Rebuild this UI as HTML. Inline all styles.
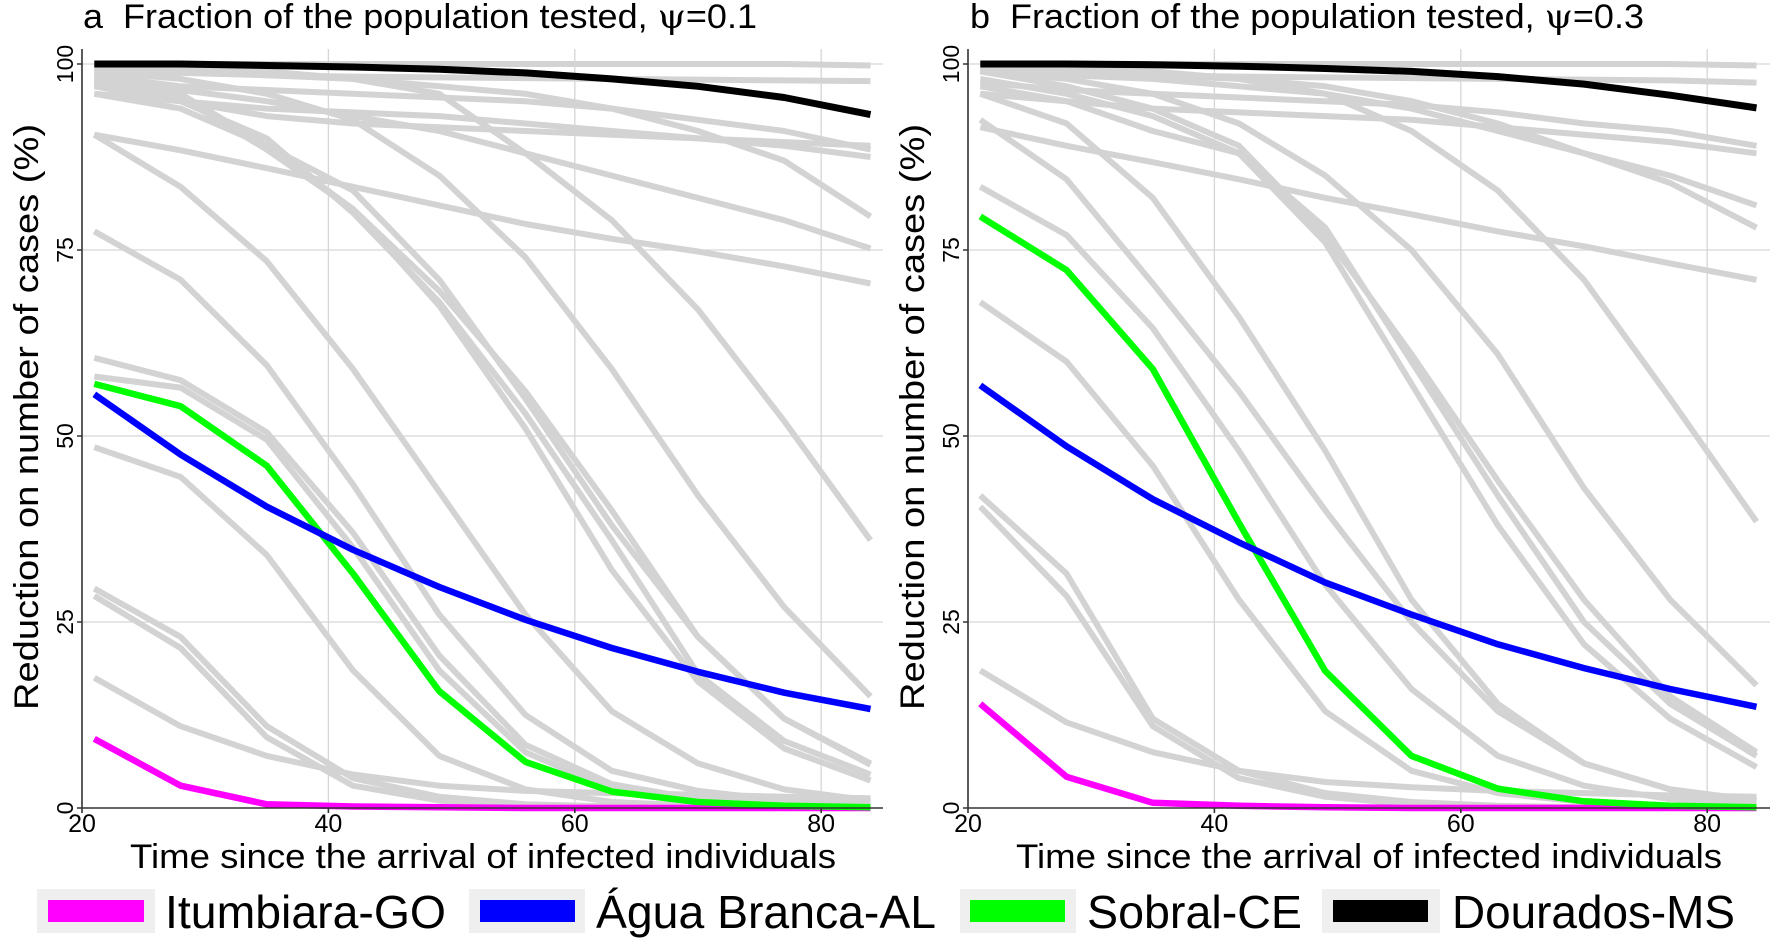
<!DOCTYPE html>
<html><head><meta charset="utf-8"><style>
html,body{margin:0;padding:0;background:#fff;}
svg{display:block;font-family:"Liberation Sans",Arial,sans-serif;}
</style></head><body>
<svg id="s" width="1770" height="940" xmlns="http://www.w3.org/2000/svg">
<g id="grid" stroke="#d6d6d6" stroke-width="1.3" fill="none">
<line x1="82" y1="64" x2="883" y2="64"/><line x1="82" y1="250" x2="883" y2="250"/><line x1="82" y1="436" x2="883" y2="436"/><line x1="82" y1="622" x2="883" y2="622"/>
<line x1="328.4" y1="49" x2="328.4" y2="808"/><line x1="574.8" y1="49" x2="574.8" y2="808"/><line x1="821.2" y1="49" x2="821.2" y2="808"/>
<line x1="968" y1="64" x2="1770" y2="64"/><line x1="968" y1="250" x2="1770" y2="250"/><line x1="968" y1="436" x2="1770" y2="436"/><line x1="968" y1="622" x2="1770" y2="622"/>
<line x1="1214.4" y1="49" x2="1214.4" y2="808"/><line x1="1460.8" y1="49" x2="1460.8" y2="808"/><line x1="1707.2" y1="49" x2="1707.2" y2="808"/>
</g>
<g id="series"></g>
<g stroke="#333" stroke-width="1.6" fill="none">
<line x1="82" y1="49" x2="82" y2="808"/><line x1="82" y1="808" x2="883" y2="808"/>
<line x1="968" y1="49" x2="968" y2="808"/><line x1="968" y1="808" x2="1770" y2="808"/>
<path d="M77 64H82M77 250H82M77 436H82M77 622H82M77 808H82M82 808V813M328.4 808V813M574.8 808V813M821.2 808V813"/>
<path d="M963 64H968M963 250H968M963 436H968M963 622H968M963 808H968M968 808V813M1214.4 808V813M1460.8 808V813M1707.2 808V813"/>
</g>
<g font-size="23" fill="#000" text-anchor="middle">
<text transform="translate(73,64) rotate(-90)">100</text>
<text transform="translate(73,250) rotate(-90)">75</text>
<text transform="translate(73,436) rotate(-90)">50</text>
<text transform="translate(73,622) rotate(-90)">25</text>
<text transform="translate(73,808) rotate(-90)">0</text>
<text transform="translate(959,64) rotate(-90)">100</text>
<text transform="translate(959,250) rotate(-90)">75</text>
<text transform="translate(959,436) rotate(-90)">50</text>
<text transform="translate(959,622) rotate(-90)">25</text>
<text transform="translate(959,808) rotate(-90)">0</text>
</g>
<g font-size="25" fill="#000" text-anchor="middle">
<text x="82" y="832">20</text><text x="328.4" y="832">40</text><text x="574.8" y="832">60</text><text x="821.2" y="832">80</text>
<text x="968" y="832">20</text><text x="1214.4" y="832">40</text><text x="1460.8" y="832">60</text><text x="1707.2" y="832">80</text>
</g>
<g font-size="34" fill="#000">
<text x="130" y="868" textLength="706" lengthAdjust="spacingAndGlyphs">Time since the arrival of infected individuals</text>
<text x="1016" y="868" textLength="706" lengthAdjust="spacingAndGlyphs">Time since the arrival of infected individuals</text>
<text transform="translate(38,710) rotate(-90)" textLength="586" lengthAdjust="spacingAndGlyphs">Reduction on number of cases (%)</text>
<text transform="translate(924,710) rotate(-90)" textLength="586" lengthAdjust="spacingAndGlyphs">Reduction on number of cases (%)</text>
</g>
<g font-size="34" fill="#000">
<text x="83" y="28" textLength="674" lengthAdjust="spacingAndGlyphs">a&#160;&#160;Fraction of the population tested, <tspan font-family="'DejaVu Serif',serif">ψ</tspan>=0.1</text>
<text x="970" y="28" textLength="674" lengthAdjust="spacingAndGlyphs">b&#160;&#160;Fraction of the population tested, <tspan font-family="'DejaVu Serif',serif">ψ</tspan>=0.3</text>
</g>
<g>
<rect x="37" y="889" width="118" height="44" fill="#efefef"/><rect x="48" y="900" width="96" height="22" fill="#ff00ff"/>
<rect x="469" y="889" width="116" height="44" fill="#efefef"/><rect x="480" y="900" width="95" height="22" fill="#0000ff"/>
<rect x="960" y="889" width="116" height="44" fill="#efefef"/><rect x="970" y="900" width="95" height="22" fill="#00ff00"/>
<rect x="1322" y="889" width="118" height="44" fill="#efefef"/><rect x="1333" y="900" width="95" height="22" fill="#000"/>
</g>
<g font-size="46" fill="#000">
<text x="165" y="928" textLength="281" lengthAdjust="spacingAndGlyphs">Itumbiara-GO</text>
<text x="596" y="928" textLength="340" lengthAdjust="spacingAndGlyphs">Água Branca-AL</text>
<text x="1087" y="928" textLength="215" lengthAdjust="spacingAndGlyphs">Sobral-CE</text>
<text x="1452" y="928" textLength="283" lengthAdjust="spacingAndGlyphs">Dourados-MS</text>
</g>
</svg>
<script>
(function(){
var g=document.getElementById('series');
var days=[21,28,35,42,49,56,63,70,77,84];
function line(x0,vals,color,w){
  var pts=vals.map(function(v,i){return (x0+(days[i]-20)*12.32).toFixed(1)+','+(808-v*7.44).toFixed(1);}).join(' ');
  var p=document.createElementNS('http://www.w3.org/2000/svg','polyline');
  p.setAttribute('points',pts);p.setAttribute('fill','none');p.setAttribute('stroke',color);
  p.setAttribute('stroke-width',w);p.setAttribute('stroke-linejoin','round');
  g.appendChild(p);
}
var grayA=[
[100,100,100,100,100,100,100,100,100,99.8],
[99,98.8,98.5,98.3,98.2,98.1,98,97.9,97.8,97.7],
[98.5,97,96.5,96,95.5,95,94,92.5,91,88.5],
[97.5,95,93,92,91.5,91,90.5,90,89.5,89],
[96,95,94,93.5,93,92,91,90,89,87.5],
[99.5,99,98.5,98,97,96,94,91,87,79.5],
[98,96.5,95,93,91,88,85,82,79,75.2],
[90.5,88.4,86,83.5,81,78.5,76.5,74.8,72.8,70.5],
[97,95,90,80,68,53,36,18,9,4.5],
[98,95.5,88.5,80.5,67.5,51,32,17,8,3.7],
[97.5,96,89,83,71,55,38,23,12,5.8],
[99,98,96,92.5,85,74,59,42,27,15],
[100,99.5,99,98,96,88,79,67,52,36],
[77.5,71,59.5,43.5,26,12.5,5,2.3,1,0.5],
[60.5,57.5,50.5,37,20.5,8.5,3.2,1.2,0.5,0.2],
[58,56.5,49.5,35,18.5,7.5,2.5,1,0.4,0.1],
[48.5,44.5,34,18.5,7,2.5,0.8,0.3,0.1,0],
[29.5,23,11,4,1.5,0.5,0.2,0.1,0,0],
[28.5,21.5,9.5,3,1,0.3,0.1,0,0,0],
[17.5,11,7,4.5,3,2.3,2,1.8,1.5,1.3],
[90.5,83.5,73.5,59,42.5,26,13,6,2.5,1],
[96,94,89,80.5,69.5,56,40,23,12,6]
];
var grayB=[
[100,100,100,100,100,100,100,100,100,99.8],
[99,98.8,98.5,98.3,98.2,98.1,98,97.9,97.8,97.5],
[97.5,96.5,96,95.5,95,94.5,93.5,92,91,89],
[96,95,94,93.5,93,92.5,91.5,90.5,89.5,88],
[99.5,99,98.5,98,97,95,92,88,84,78],
[99,98.5,98,97,96,94,91,88,85,81],
[91.5,89,86.8,84.5,82,79.8,77.5,75.5,73.2,71],
[100,99.5,99,98,96,91,83,71,55,38.5],
[99,98,96,92,85,75,61,43,28,16.5],
[97,95,91,88,78,60,42,25,14,7],
[98,96,93,88,76,57,38,22,12,5.5],
[99,97,94,89,77,61,44,28,15,7.5],
[92.5,84.5,70.5,56,40,25,13,6,2.5,1],
[83.5,77,64.5,48,30,16,7,3,1.2,0.5],
[68,60,46,28,13,5,2,0.8,0.3,0.1],
[42,31.5,12,5,2,0.8,0.3,0.1,0,0],
[40.5,28.5,11,4,1.5,0.5,0.2,0,0,0],
[18.5,11.5,7.5,5,3.5,2.8,2.3,2,1.7,1.5],
[96,92,82,66,48,28,14,6,2.5,1]
];
grayA.forEach(function(v){line(82,v,'#d3d3d3',6);});
grayB.forEach(function(v){line(968,v,'#d3d3d3',6);});
line(82,[9.3,3,0.5,0.2,0.1,0,0,0,0,0],'#ff00ff',6.5);
line(82,[57,54,46,31.5,15.7,6.2,2.2,0.8,0.3,0.1],'#00ff00',6.5);
line(82,[55.6,47.5,40.5,34.7,29.7,25.3,21.5,18.3,15.5,13.3],'#0000ff',6.5);
line(82,[100,100,99.8,99.6,99.3,98.8,98,97,95.5,93.2],'#000',7);
line(968,[14,4.2,0.7,0.3,0.1,0,0,0,0,0],'#ff00ff',6.5);
line(968,[79.5,72.3,59,38.3,18.4,7,2.6,0.9,0.3,0.1],'#00ff00',6.5);
line(968,[56.8,48.6,41.5,35.7,30.3,26,22,18.8,16,13.6],'#0000ff',6.5);
line(968,[100,100,99.9,99.7,99.4,99,98.3,97.3,95.8,94.1],'#000',7);
})();
</script>
</body></html>
